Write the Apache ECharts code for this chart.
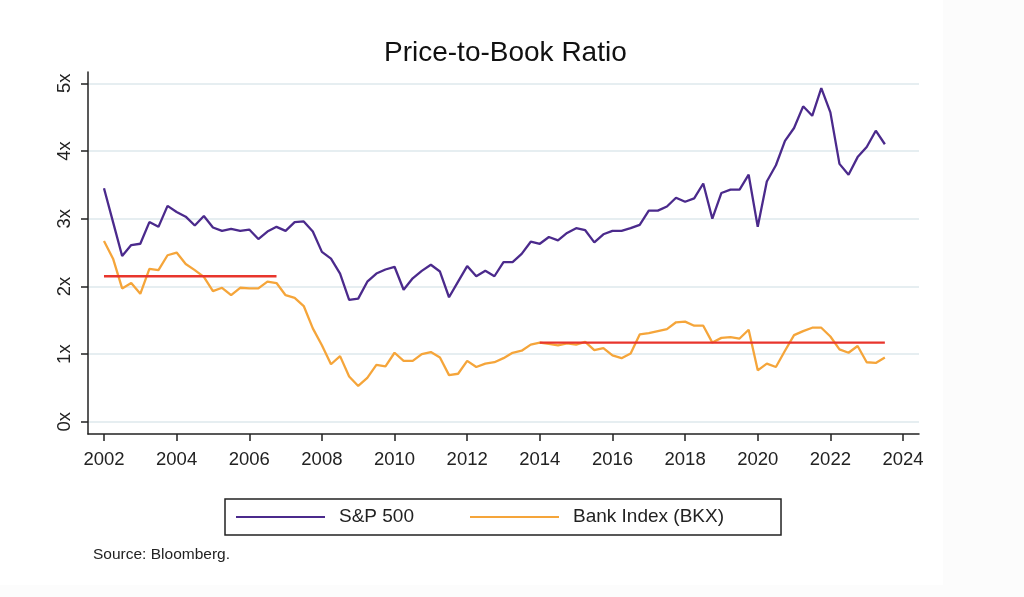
<!DOCTYPE html>
<html>
<head>
<meta charset="utf-8">
<script src="https://cdn.jsdelivr.net/npm/echarts@6/dist/echarts.min.js"></script>
<style>
html,body{margin:0;padding:0;background:#fff;}
#chart{width:1024px;height:597px;}
</style>
</head>
<body>
<div id="chart"></div>
<script>
// Quarterly observations, 2002 Q1 .. 2023 Q3
const startYear = 2002;
const stepYears = 0.25;

const sp500 = [
  3.45, 2.95, 2.45, 2.61,
  2.63, 2.95, 2.88, 3.19,
  3.10, 3.03, 2.90, 3.04,
  2.87, 2.82, 2.85, 2.82,
  2.84, 2.70, 2.81, 2.88,
  2.82, 2.95, 2.96, 2.81,
  2.51, 2.41, 2.19, 1.80,
  1.82, 2.07, 2.19, 2.25,
  2.29, 1.95, 2.12, 2.23,
  2.32, 2.22, 1.84, 2.07,
  2.30, 2.15, 2.23, 2.15,
  2.36, 2.36, 2.48, 2.66,
  2.63, 2.73, 2.68, 2.79,
  2.86, 2.83, 2.65, 2.77,
  2.82, 2.82, 2.86, 2.91,
  3.12, 3.12, 3.18, 3.31,
  3.25, 3.30, 3.52, 3.00,
  3.38, 3.43, 3.43, 3.65,
  2.88, 3.55, 3.79, 4.15,
  4.34, 4.66, 4.52, 4.93,
  4.57, 3.81, 3.65, 3.91,
  4.06, 4.30, 4.10
];

const bankIndex = [
  2.67, 2.41, 1.97, 2.05,
  1.89, 2.26, 2.24, 2.46,
  2.50, 2.33, 2.24, 2.14,
  1.93, 1.98, 1.87, 1.98,
  1.97, 1.97, 2.07, 2.05,
  1.87, 1.83, 1.71, 1.38,
  1.13, 0.85, 0.97, 0.67,
  0.53, 0.65, 0.84, 0.82,
  1.02, 0.90, 0.90, 1.00,
  1.03, 0.95, 0.69, 0.71,
  0.90, 0.81, 0.86, 0.88,
  0.94, 1.02, 1.05, 1.14,
  1.17, 1.15, 1.13, 1.16,
  1.14, 1.18, 1.06, 1.09,
  0.98, 0.94, 1.01, 1.29,
  1.31, 1.34, 1.37, 1.47,
  1.48, 1.42, 1.42, 1.17,
  1.24, 1.25, 1.23, 1.36,
  0.76, 0.86, 0.81, 1.05,
  1.28, 1.34, 1.39, 1.39,
  1.26, 1.07, 1.02, 1.12,
  0.88, 0.87, 0.95
];

// Bank index average levels over two periods (red lines)
const avgPeriod1 = [2002, 2006.75];
const avgValue1 = 2.15;
const avgPeriod2 = [2014, 2023.5];
const avgValue2 = 1.17;

const xTicks = [2002, 2004, 2006, 2008, 2010, 2012, 2014, 2016, 2018, 2020, 2022, 2024];
const yTicks = [0, 1, 2, 3, 4, 5];

const seriesNames = ['S&P 500', 'Bank Index (BKX)'];
const titleText = 'Price-to-Book Ratio';
const sourceText = 'Source: Bloomberg.';

const dates = sp500.map((_, i) => startYear + i * stepYears);
const spData = sp500.map((v, i) => [dates[i], v]);
const bankData = bankIndex.map((v, i) => [dates[i], v]);

const FONT = '"Liberation Sans", Arial, Helvetica, sans-serif';
const chart = echarts.init(document.getElementById('chart'), null, {renderer: 'canvas'});

chart.setOption({
  animation: false,
  backgroundColor: '#ffffff',
  textStyle: {fontFamily: FONT},
  title: {
    text: titleText,
    left: 384,
    top: 38,
    padding: 0,
    textStyle: {fontSize: 28, fontWeight: 'normal', color: '#111', fontFamily: FONT, lineHeight: 30}
  },
  graphic: [
    {type: 'rect', shape: {x: 943, y: 0, width: 81, height: 597}, style: {fill: '#fcfcfc'}, silent: true, z: -10},
    {type: 'rect', shape: {x: 0, y: 585, width: 943, height: 12}, style: {fill: '#fcfcfc'}, silent: true, z: -10},
    {type: 'text', left: 93, top: 547, style: {text: sourceText, fontSize: 15.5, fill: '#222', fontFamily: FONT}, silent: true}
  ],
  legend: {
    data: seriesNames,
    left: 225,
    top: 499,
    orient: 'horizontal',
    padding: [7, 57, 7, 11],
    borderColor: '#222',
    borderWidth: 1.5,
    itemWidth: 89,
    itemHeight: 14,
    itemGap: 56,
    icon: 'path://M0,0 L100,0 L100,2 L0,2 Z',
    textStyle: {fontSize: 19, color: '#222', fontFamily: FONT, padding: [0, 0, 0, 9], lineHeight: 22}
  },
  grid: {left: 88, right: 105, top: 72, bottom: 163, containLabel: false},
  xAxis: {
    type: 'value',
    min: 2001.56,
    max: 2024.44,
    axisLine: {show: true, onZero: false, lineStyle: {color: '#222', width: 1.5}},
    axisTick: {show: true, length: 7, customValues: xTicks, lineStyle: {color: '#222', width: 1.5}},
    axisLabel: {customValues: xTicks, fontSize: 18.5, color: '#222', margin: 16, fontFamily: FONT, formatter: v => String(v)},
    splitLine: {show: false}
  },
  yAxis: {
    type: 'value',
    min: -0.18,
    max: 5.167,
    axisLine: {show: true, onZero: false, lineStyle: {color: '#222', width: 1.5}},
    axisTick: {show: true, length: 7, customValues: yTicks, lineStyle: {color: '#222', width: 1.5}},
    axisLabel: {customValues: yTicks, rotate: 90, fontSize: 18.5, color: '#222', margin: 14, fontFamily: FONT, formatter: v => v + 'x'},
    splitLine: {show: true, lineStyle: {color: '#e6eef1', width: 2}}
  },
  series: [
    {
      name: seriesNames[0], type: 'line', data: spData, showSymbol: false, symbol: 'none',
      lineStyle: {color: '#4b2a8c', width: 2.3}, itemStyle: {color: '#4b2a8c'}, z: 4
    },
    {
      name: seriesNames[1], type: 'line', data: bankData, showSymbol: false, symbol: 'none',
      lineStyle: {color: '#f5a53a', width: 2.3}, itemStyle: {color: '#f5a53a'}, z: 2
    },
    {
      name: 'avg1', type: 'line', data: [[avgPeriod1[0], avgValue1], [avgPeriod1[1], avgValue1]], showSymbol: false, symbol: 'none',
      lineStyle: {color: '#e8352c', width: 2.3}, itemStyle: {color: '#e8352c'}, z: 3
    },
    {
      name: 'avg2', type: 'line', data: [[avgPeriod2[0], avgValue2], [avgPeriod2[1], avgValue2]], showSymbol: false, symbol: 'none',
      lineStyle: {color: '#e8352c', width: 2.3}, itemStyle: {color: '#e8352c'}, z: 3
    }
  ]
});
</script>
</body>
</html>
